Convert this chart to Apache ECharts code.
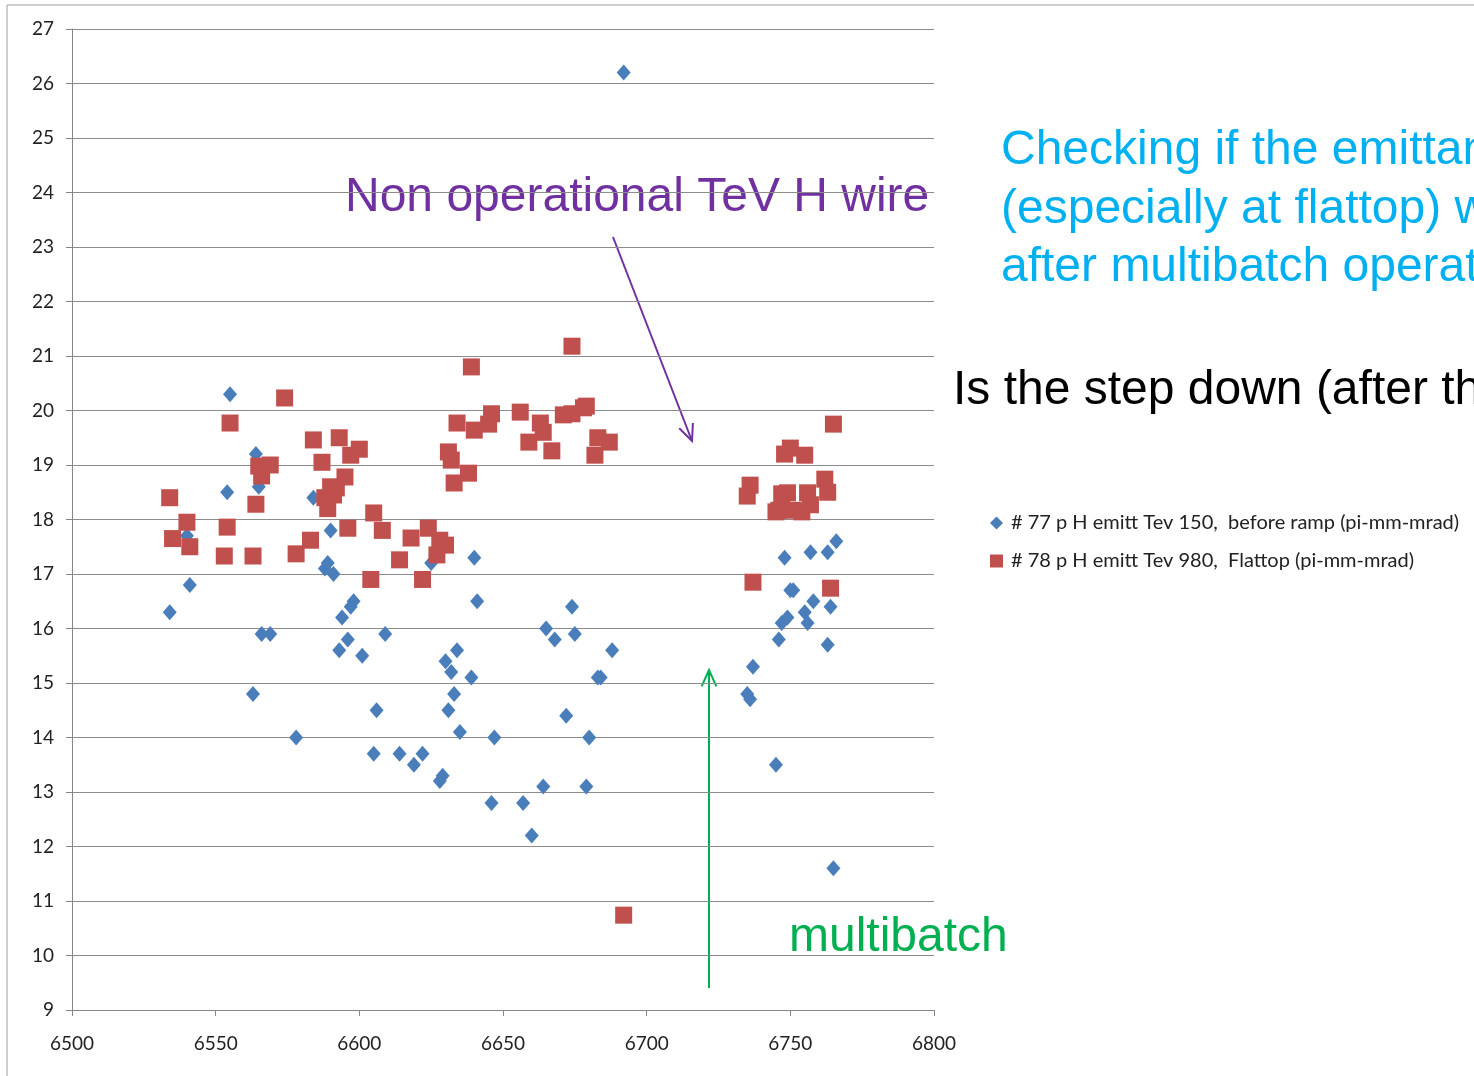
<!DOCTYPE html>
<html>
<head>
<meta charset="utf-8">
<script src="https://cdn.jsdelivr.net/npm/echarts@6/dist/echarts.min.js"></script>
<style>
  html, body { margin: 0; padding: 0; background: #fff; }
  #scatter { width: 1474px; height: 1076px; }
</style>
</head>
<body>
<div id="scatter"></div>
<script>
// store number / emittance readings
var blueX = [6534, 6540, 6541, 6554, 6555, 6563, 6564, 6565, 6566, 6569, 6578, 6584, 6588, 6589, 6590, 6591,
    6593, 6594, 6596, 6597, 6598, 6601, 6605, 6606, 6609, 6614, 6619, 6622, 6625, 6628, 6629, 6630,
    6631, 6632, 6633, 6634, 6635, 6639, 6640, 6641, 6646, 6647, 6657, 6660, 6664, 6665, 6668, 6672,
    6674, 6675, 6679, 6680, 6683, 6684, 6688, 6692, 6735, 6736, 6737, 6745, 6746, 6747, 6748, 6749,
    6750, 6751, 6755, 6756, 6757, 6758, 6763, 6763, 6764, 6765, 6766];
var blueY = [16.3, 17.7, 16.8, 18.5, 20.3, 14.8, 19.2, 18.6, 15.9, 15.9, 14.0, 18.4, 17.1, 17.2, 17.8, 17.0,
    15.6, 16.2, 15.8, 16.4, 16.5, 15.5, 13.7, 14.5, 15.9, 13.7, 13.5, 13.7, 17.2, 13.2, 13.3, 15.4,
    14.5, 15.2, 14.8, 15.6, 14.1, 15.1, 17.3, 16.5, 12.8, 14.0, 12.8, 12.2, 13.1, 16.0, 15.8, 14.4,
    16.4, 15.9, 13.1, 14.0, 15.1, 15.1, 15.6, 26.2, 14.8, 14.7, 15.3, 13.5, 15.8, 16.1, 17.3, 16.2,
    16.7, 16.7, 16.3, 16.1, 17.4, 16.5, 15.7, 17.4, 16.4, 11.6, 17.6];
var redX = [6534, 6535, 6540, 6541, 6553, 6554, 6555, 6563, 6564, 6565, 6566, 6569, 6574, 6578, 6583, 6584,
    6587, 6588, 6589, 6590, 6591, 6592, 6593, 6595, 6596, 6597, 6600, 6604, 6605, 6608, 6614, 6618,
    6622, 6624, 6627, 6628, 6630, 6631, 6632, 6633, 6634, 6638, 6639, 6640, 6645, 6646, 6656, 6659,
    6663, 6664, 6667, 6671, 6674, 6674, 6678, 6679, 6682, 6683, 6687, 6692, 6735, 6736, 6737, 6745,
    6746, 6747, 6748, 6749, 6750, 6751, 6754, 6755, 6756, 6757, 6762, 6763, 6764, 6765];
var redY = [18.4, 17.65, 17.95, 17.5, 17.33, 17.86, 19.77, 17.33, 18.28, 18.98, 18.8, 19.0, 20.23, 17.37, 17.62, 19.46,
    19.05, 18.4, 18.2, 18.6, 18.45, 18.58, 19.5, 18.78, 17.84, 19.18, 19.29, 16.9, 18.12, 17.8, 17.26, 17.66,
    16.9, 17.84, 17.35, 17.62, 17.53, 19.24, 19.09, 18.67, 19.77, 18.85, 20.8, 19.64, 19.75, 19.94, 19.97, 19.42,
    19.77, 19.6, 19.26, 19.92, 21.18, 19.94, 20.05, 20.08, 19.18, 19.5, 19.42, 10.74, 18.43, 18.63, 16.85, 18.14,
    18.17, 18.47, 19.2, 18.49, 19.31, 18.17, 18.14, 19.18, 18.49, 18.27, 18.74, 18.5, 16.74, 19.75];
var blueName = '# 77 p H emitt Tev 150,  before ramp (pi-mm-mrad)';
var redName = '# 78 p H emitt Tev 980,  Flattop (pi-mm-mrad)';

function pairs(xs, ys) {
    var out = [];
    for (var i = 0; i < xs.length; i++) {
        out.push([xs[i], ys[i]]);
    }
    return out;
}

// simple arrow: shaft plus two head strokes
function arrow(x1, y1, x2, y2, color) {
    var dx = x2 - x1, dy = y2 - y1;
    var len = Math.sqrt(dx * dx + dy * dy);
    var ux = dx / len, uy = dy / len;
    var h = 18, a = 0.42;
    var c = Math.cos(a), s = Math.sin(a);
    var p1 = [x2 - h * (ux * c - uy * s), y2 - h * (uy * c + ux * s)];
    var p2 = [x2 - h * (ux * c + uy * s), y2 - h * (uy * c - ux * s)];
    return [
        { type: 'line', shape: { x1: x1, y1: y1, x2: x2, y2: y2 }, style: { stroke: color, lineWidth: 2 } },
        { type: 'polyline', shape: { points: [p1, [x2, y2], p2] }, style: { stroke: color, lineWidth: 2, fill: null } }
    ];
}

function bigText(x, y, text, color) {
    return {
        type: 'text', left: x, top: y - 21,
        style: { text: text, fill: color, fontSize: 48, fontFamily: 'Liberation Sans, Arial, sans-serif' }
    };
}

var myChart = echarts.init(document.getElementById('scatter'));
var axisFont = { fontSize: 19, color: '#222', fontFamily: 'Lato, Liberation Sans, sans-serif' };

var graphics = [
    { type: 'line', shape: { x1: 7, y1: 5, x2: 1474, y2: 5 }, style: { stroke: '#bdbdbd', lineWidth: 1.5 } },
    { type: 'line', shape: { x1: 7, y1: 5, x2: 7, y2: 1076 }, style: { stroke: '#bdbdbd', lineWidth: 1.5 } },
    bigText(345, 195, 'Non operational TeV H wire', '#7030A0'),
    bigText(1001, 148, 'Checking if the emittance', '#00B0F0'),
    bigText(1001, 207, '(especially at flattop) was', '#00B0F0'),
    bigText(1001, 265, 'after multibatch operation', '#00B0F0'),
    bigText(953, 388, 'Is the step down (after the', '#000000'),
    bigText(789, 935, 'multibatch', '#00B050')
];
graphics = graphics.concat(arrow(613, 237, 692, 441, '#7030A0'));
graphics = graphics.concat(arrow(709, 988, 709, 670, '#00B050'));

var option = {
    animation: false,
    backgroundColor: '#fff',
    grid: { left: 72, right: 540, top: 29, bottom: 66 },
    legend: {
        orient: 'vertical',
        left: 985,
        top: 508,
        itemGap: 18,
        itemWidth: 13,
        itemHeight: 13,
        textStyle: { fontSize: 20, color: '#222', fontFamily: 'Lato, Liberation Sans, sans-serif', padding: [0, 0, 0, 3] },
        data: [
            { name: blueName, icon: 'diamond' },
            { name: redName, icon: 'rect' }
        ]
    },
    xAxis: {
        type: 'value',
        min: 6500, max: 6800, interval: 50,
        axisLine: { onZero: false, lineStyle: { color: '#868686' } },
        axisTick: { show: true, length: 6, lineStyle: { color: '#868686' } },
        axisLabel: Object.assign({ margin: 24, formatter: function (v) { return String(v); } }, axisFont),
        splitLine: { show: false }
    },
    yAxis: {
        type: 'value',
        min: 9, max: 27, interval: 1,
        axisLine: { show: true, lineStyle: { color: '#868686' } },
        axisTick: { show: true, length: 6, lineStyle: { color: '#868686' } },
        axisLabel: Object.assign({ margin: 18 }, axisFont),
        splitLine: { lineStyle: { color: '#8c8c8c', width: 1 } }
    },
    series: [
        {
            name: blueName,
            type: 'scatter',
            symbol: 'diamond',
            symbolSize: [14, 16],
            itemStyle: { color: '#4A7EBB', opacity: 1 },
            data: pairs(blueX, blueY)
        },
        {
            name: redName,
            type: 'scatter',
            symbol: 'rect',
            symbolSize: 17,
            itemStyle: { color: '#C0504D', opacity: 1 },
            data: pairs(redX, redY)
        }
    ],
    graphic: graphics
};
option && myChart.setOption(option);

window.onresize = function () {
    myChart.resize();
};
</script>
</body>
</html>
